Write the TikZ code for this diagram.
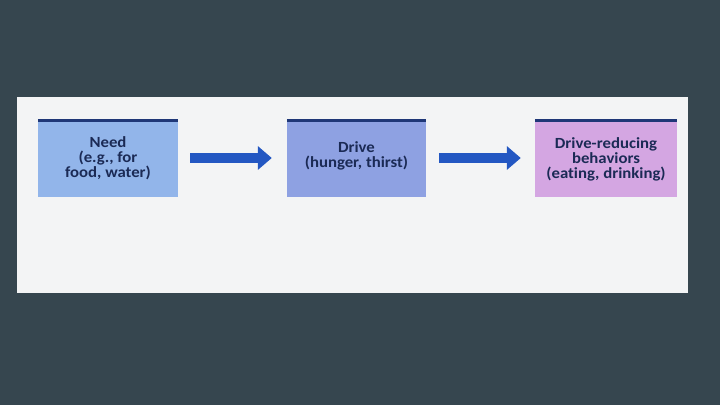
\documentclass[tikz,border=0pt]{standalone}
\usepackage{fontspec}
\setmainfont[Ligatures={NoCommon},FakeStretch=1.08]{Carlito}
\usetikzlibrary{arrows.meta}
\definecolor{bgslate}{HTML}{36464F}
\definecolor{panel}{HTML}{F3F4F5}
\definecolor{needfill}{HTML}{92B5EA}
\definecolor{drivefill}{HTML}{8EA1E2}
\definecolor{behfill}{HTML}{D4A6E2}
\definecolor{barnavy}{HTML}{1F3777}
\definecolor{txtnavy}{HTML}{1B2A55}
\definecolor{arrowblue}{HTML}{2357C2}
\tikzset{
  stage/.style={minimum width=140pt, minimum height=78pt, inner sep=0pt},
  label/.style={inner sep=0pt, align=center, text=txtnavy,
    font=\fontsize{15.5}{15}\selectfont\bfseries},
  topbar/.style={draw=barnavy, line width=3pt},
  flow/.style={draw=arrowblue, line width=10pt, -{Triangle[length=14pt,width=23pt]}}
}
\begin{document}
\begin{tikzpicture}[x=1pt,y=-1pt]
\useasboundingbox (0,0) rectangle (720,405);
\fill[bgslate] (0,0) rectangle (720,405);
\fill[panel] (17,97) rectangle (688,293);
\node[stage, fill=needfill] (need) at (108,158) {};
\node[label] (needt) at (108,158) {Need\\(e.g., for\\food, water)};
\node[stage, fill=drivefill, minimum width=139pt] (drive) at (356.5,158) {};
\node[label] (drivet) at (356.5,156) {Drive\\(hunger, thirst)};
\node[stage, fill=behfill, minimum width=142pt] (beh) at (606,158) {};
\node[label] (beht) at (606,159) {Drive-reducing\\behaviors\\(eating, drinking)};
\foreach \n in {need,drive,beh}{
  \draw[topbar] ([yshift=-1.5pt]\n.north west) -- ([yshift=-1.5pt]\n.north east);
}
\draw[flow] ([xshift=12pt]need.east) -- ([xshift=-15pt]drive.west);
\draw[flow] ([xshift=13pt]drive.east) -- ([xshift=-14pt]beh.west);
\end{tikzpicture}
\end{document}
